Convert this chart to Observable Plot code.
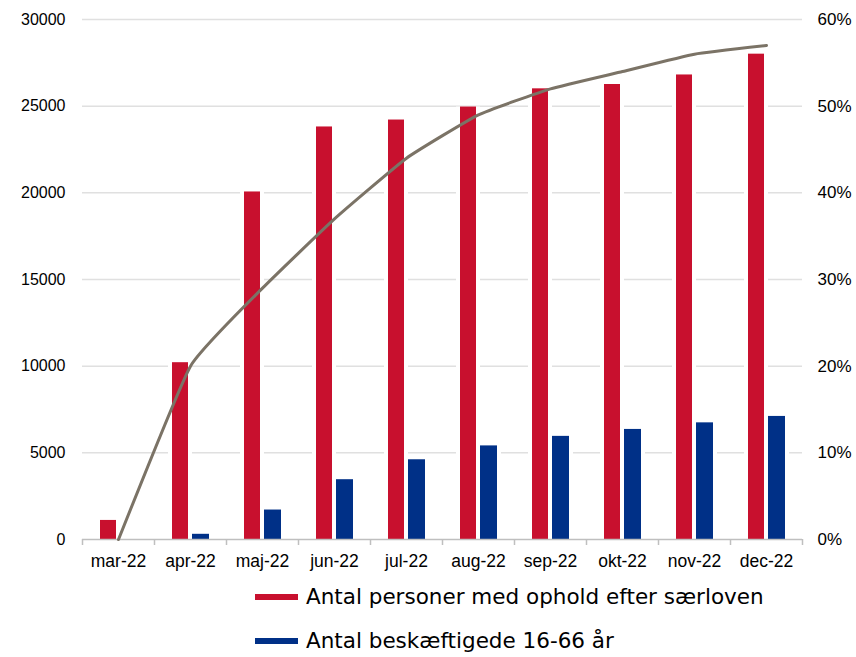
<!DOCTYPE html>
<html>
<head>
<meta charset="utf-8">
<script src="https://cdn.jsdelivr.net/npm/d3@7"></script>
<script src="https://cdn.jsdelivr.net/npm/@observablehq/plot@0.6"></script>
<style>
  body { margin: 0; background: #fff; width: 856px; height: 657px; overflow: hidden; }
  #chart svg { display: block; }
  .legend { position: absolute; left: 255px; font-family: "DejaVu Sans", Verdana, sans-serif; font-size: 21.5px; color: #000; display: flex; align-items: center; line-height: 1; }
  .legend .sw { width: 43px; height: 6px; margin-right: 8px; }
</style>
</head>
<body>
<div id="chart"></div>
<div class="legend" style="top:586px"><div class="sw" style="background:#c8102e"></div>Antal personer med ophold efter særloven</div>
<div class="legend" style="top:630px"><div class="sw" style="background:#003087"></div>Antal beskæftigede 16-66 år</div>
<script>
const months = ["mar-22","apr-22","maj-22","jun-22","jul-22","aug-22","sep-22","okt-22","nov-22","dec-22"];
const persons = [1100, 10200, 20050, 23800, 24200, 24950, 26000, 26250, 26800, 28000];
const employed = [0, 300, 1700, 3450, 4600, 5400, 5950, 6350, 6730, 7100];
const sharePct = [0, 20, 29, 37, 44, 49, 52, 54, 56, 57];
const leftTicks = [0, 5000, 10000, 15000, 20000, 25000, 30000];
const rightTicks = [0, 10, 20, 30, 40, 50, 60];

const red = "#c8102e", blue = "#003087", lineColor = "#7b7366";
const PCT_TO_Y = 30000 / 60;

const data = months.map((m, i) => ({month: m, persons: persons[i], employed: employed[i], share: sharePct[i]}));

const font = "'Liberation Sans', Arial, sans-serif";

const chart = Plot.plot({
  width: 856,
  height: 580,
  marginTop: 19,
  marginBottom: 41,
  marginLeft: 82,
  marginRight: 54,
  style: {fontFamily: font, fontSize: "16px", color: "#000", background: "#fff"},
  x: {domain: months, type: "band", padding: 0},
  y: {domain: [0, 30000]},
  marks: [
    Plot.ruleY(leftTicks.filter(d => d > 0), {stroke: "#e0e0e0", strokeWidth: 1.5}),
    Plot.barY(data, {x: "month", y: "persons", fill: "#fff", insetLeft: 14, insetRight: 34}),
    Plot.barY(data, {x: "month", y: "employed", fill: "#fff", insetLeft: 34, insetRight: 13}),
    Plot.barY(data, {x: "month", y: "persons", fill: red, insetLeft: 18, insetRight: 38}),
    Plot.barY(data, {x: "month", y: "employed", fill: blue, insetLeft: 38, insetRight: 17}),
    Plot.ruleY([0], {stroke: "#bfbfbf", strokeWidth: 1.5}),
    Plot.ruleX(months, {x: d => d, dx: -36, y1: 0, y2: 0, insetBottom: -6, stroke: "#bfbfbf", strokeWidth: 1.5}),
    Plot.ruleX([months[months.length - 1]], {x: d => d, dx: 36, y1: 0, y2: 0, insetBottom: -6, stroke: "#bfbfbf", strokeWidth: 1.5}),
    Plot.line(data, {x: "month", y: d => d.share * PCT_TO_Y, stroke: lineColor, strokeWidth: 3, curve: "cardinal", tension: 0.6}),
    Plot.axisX({tickSize: 0, tickPadding: 15, fontSize: 17.5, label: null}),
    Plot.axisY({anchor: "left", ticks: leftTicks, tickSize: 0, tickPadding: 17, fontSize: 16, label: null, tickFormat: d => String(d)}),
    Plot.axisY({anchor: "right", ticks: rightTicks.map(p => p * PCT_TO_Y), tickSize: 0, tickPadding: 15, fontSize: 17, label: null, tickFormat: d => (d / PCT_TO_Y) + "%"})
  ]
});
document.getElementById("chart").appendChild(chart);
</script>
</body>
</html>
